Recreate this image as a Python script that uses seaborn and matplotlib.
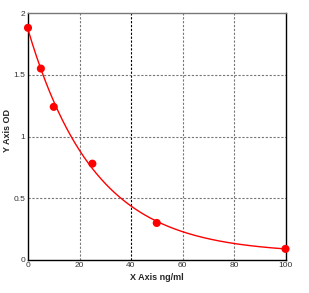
import numpy as np
import pandas as pd
import matplotlib
matplotlib.use("Agg")
import matplotlib.pyplot as plt
import seaborn as sns

# Data
conc = [0, 5, 10, 25, 50, 100]
od = [1.88, 1.55, 1.24, 0.78, 0.30, 0.09]
x_ticks = [0, 20, 40, 60, 80, 100]
y_ticks = [0, 0.5, 1, 1.5, 2]
y_tick_labels = ["0", "0.5", "1", "1.5", "2"]

df = pd.DataFrame({"conc": conc, "od": od})

# Fit y = a*exp(-k x) + d by least squares (grid over k)
xa = np.array(conc, float)
ya = np.array(od, float)
best = None
for k in np.linspace(0.005, 0.2, 2000):
    A = np.column_stack([np.exp(-k * xa), np.ones_like(xa)])
    coef, *_ = np.linalg.lstsq(A, ya, rcond=None)
    err = np.sum((A @ coef - ya) ** 2)
    if best is None or err < best[0]:
        best = (err, k, coef)
_, kf, (af, df_) = best
xs = np.linspace(0, 100, 300)
fit = pd.DataFrame({"conc": xs, "od": af * np.exp(-kf * xs) + df_})

sns.set_style("white")
plt.rcParams["font.family"] = ["Liberation Sans", "DejaVu Sans"]

fig = plt.figure(figsize=(3.09, 2.93), dpi=100)
ax = fig.add_axes([28 / 309, 33 / 293, 257.5 / 309, 247 / 293])

sns.lineplot(data=fit, x="conc", y="od", ax=ax, color="#ff0000", lw=1.0, zorder=3)
sns.scatterplot(data=df, x="conc", y="od", ax=ax, color="#ff0000", s=34,
                edgecolor="none", zorder=4, clip_on=False)

ax.set_xlim(0, 100)
ax.set_ylim(0, 2)
ax.set_xticks(x_ticks)
ax.set_yticks(y_ticks)
ax.set_yticklabels(y_tick_labels)
ax.tick_params(axis="both", length=0, labelsize=6, colors="#333333")
ax.tick_params(axis="x", pad=1.5)
ax.tick_params(axis="y", pad=2)

for xv in [20, 40, 60, 80]:
    ax.axvline(xv, color="#000000" if xv == 40 else "#777777", lw=0.8,
               ls=(0, (2, 1.5)), zorder=1)
for yv in [0.5, 1, 1.5]:
    ax.axhline(yv, color="#777777", lw=0.8, ls=(0, (2, 1.5)), zorder=1)

for side in ["left", "right", "bottom"]:
    ax.spines[side].set_color("black")
    ax.spines[side].set_linewidth(1.0)
ax.spines["top"].set_color("#777777")
ax.spines["top"].set_linewidth(1.0)

ax.set_xlabel("X Axis ng/ml", fontsize=6.5, fontweight="bold")
ax.set_ylabel("Y Axis OD", fontsize=6.5, fontweight="bold")
ax.xaxis.set_label_coords(0.5, (260 - 278) / 247, transform=ax.transAxes)
ax.xaxis.label.set_va("center")
ax.yaxis.set_label_coords((7.5 - 28) / 257.5, (260 - 130) / 247, transform=ax.transAxes)
ax.yaxis.label.set_va("center")

fig.savefig("out.png", dpi=100)
